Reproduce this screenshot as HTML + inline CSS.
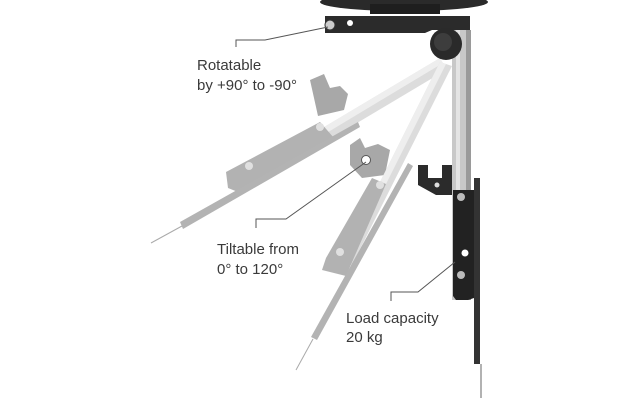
<!DOCTYPE html>
<html><head><meta charset="utf-8"><style>
html,body{margin:0;padding:0;background:#fff;}
svg{display:block}
text{font-family:"Liberation Sans",sans-serif;font-size:15px;fill:#3a3a3a;}
</style></head><body>
<svg width="640" height="400" viewBox="0 0 640 400">
<!-- ceiling plate -->
<ellipse cx="404" cy="2" rx="84" ry="9" fill="#2a2a2a"/>
<rect x="370" y="4" width="70" height="10" fill="#1e1e1e"/>
<!-- arm 1 (upper faded) -->
<g>
<path d="M310 80 L324 74 L330 88 L340 86 L348 94 L344 110 L318 116 Z" fill="#a8a8a8"/>
<polygon points="440,58 446,70 258,182 252,170" fill="#dcdcdc"/>
<polygon points="440,58 443,63 255,176 252,170" fill="#eeeeee"/>
<polygon points="226,172 320,122 334,138 238,192 228,188" fill="#b2b2b2"/>
<circle cx="320" cy="127" r="4" fill="#e0e0e0"/>
<circle cx="249" cy="166" r="4" fill="#e0e0e0"/>
<polygon points="180,222 358,122 360,127 183,229" fill="#b3b3b3"/>
<line x1="182" y1="226" x2="151" y2="243" stroke="#aaa" stroke-width="1"/>
</g>
<!-- arm 2 -->
<g>
<path d="M350 145 L360 138 L365 148 L378 144 L390 150 L385 175 L362 178 L350 165 Z" fill="#a8a8a8"/>
<circle cx="366" cy="160" r="4.5" fill="#fff" stroke="#555" stroke-width="1"/>
<polygon points="440,62 452,66 352,265 340,262" fill="#dcdcdc"/>
<polygon points="440,62 446,64 346,264 340,262" fill="#eeeeee"/>
<polygon points="372,178 386,184 346,276 322,270 326,258" fill="#b2b2b2"/>
<circle cx="380" cy="185" r="4" fill="#e0e0e0"/>
<circle cx="340" cy="252" r="4" fill="#e0e0e0"/>
<polygon points="408,163 413,166 317,340 311,337" fill="#b3b3b3"/>
<line x1="313" y1="339" x2="296" y2="370" stroke="#aaa" stroke-width="1"/>
</g>
<!-- top bracket -->
<path d="M325 16 L470 16 L470 40 L452 40 L452 30 L432 30 L425 33 L338 33 L325 33 Z" fill="#2b2b2b"/>
<circle cx="330" cy="25" r="5" fill="#ccc" stroke="#333"/>
<circle cx="350" cy="23" r="3" fill="#fff"/>
<!-- vertical arm -->
<rect x="452" y="30" width="19" height="270" fill="#c8c8c8"/>
<rect x="456" y="30" width="4" height="270" fill="#e4e4e4"/>
<rect x="466" y="30" width="5" height="270" fill="#9a9a9a"/>
<circle cx="446" cy="44" r="16" fill="#2a2a2a"/>
<circle cx="443" cy="42" r="9" fill="#3d3d3d"/>
<!-- hook -->
<path d="M418 165 L428 165 L428 178 L442 178 L442 165 L452 165 L452 195 L436 195 L418 185 Z" fill="#2b2b2b"/>
<circle cx="437" cy="185" r="2.5" fill="#ddd"/>
<!-- TV plate -->
<rect x="474" y="178" width="6" height="186" fill="#333"/>
<line x1="481" y1="364" x2="481" y2="398" stroke="#666" stroke-width="1"/>
<!-- lower bracket -->
<path d="M453 190 L474 190 L474 298 L468 300 L456 300 L453 296 Z" fill="#222"/>
<circle cx="461" cy="197" r="4" fill="#bbb"/>
<circle cx="465" cy="253" r="3.5" fill="#fff"/>
<circle cx="461" cy="275" r="4" fill="#bbb"/>
<!-- leaders -->
<polyline points="236,47 236,40 265,40 328,27" fill="none" stroke="#555" stroke-width="1"/>
<polyline points="256,228 256,219 286,219 366,162" fill="none" stroke="#555" stroke-width="1"/>
<polyline points="391,301 391,292 418,292 455,262" fill="none" stroke="#555" stroke-width="1"/>
<!-- labels -->
<text x="197" y="70">Rotatable</text>
<text x="197" y="90">by +90° to -90°</text>
<text x="217" y="254">Tiltable from</text>
<text x="217" y="274">0° to 120°</text>
<text x="346" y="323">Load capacity</text>
<text x="346" y="342">20 kg</text>
</svg>
</body></html>
